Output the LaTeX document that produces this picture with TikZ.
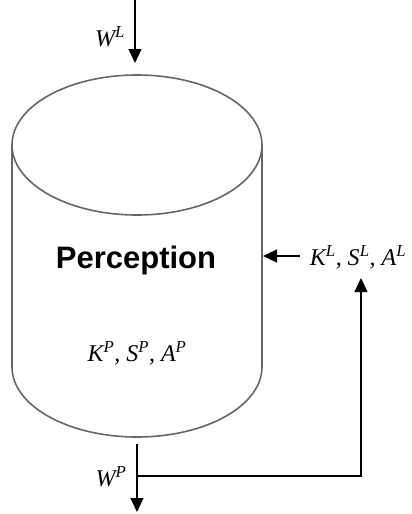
\documentclass[tikz,border=0pt]{standalone}
\usepackage{fontspec}
\setmainfont{Liberation Serif}
\newfontfamily\headfont{Liberation Sans}
\usetikzlibrary{arrows.meta}
\begin{document}
\begin{tikzpicture}[x=1pt,y=-1pt,
  conn/.style={draw=black, line width=1.1pt, -{Triangle[length=14pt,width=13pt]}},
  wire/.style={draw=black, line width=1.1pt},
  cyl/.style={draw=black!60, line width=1.6pt},
  lbl/.style={font=\fontsize{24}{26}\selectfont\itshape, inner sep=0pt}]
\useasboundingbox (0,0) rectangle (412,514);
% cylinder
\draw[cyl] (12,145) -- (12,367) arc[start angle=180, end angle=0, x radius=125, y radius=70] -- (262,145);
\draw[cyl] (137,145) ellipse[x radius=125, y radius=70];
% texts
\node[font=\headfont\bfseries\fontsize{31}{33}\selectfont, inner sep=0pt] (title) at (136,260) {Perception};
\node[lbl] (kp) at (137,353) {K\textsuperscript{P}, S\textsuperscript{P}, A\textsuperscript{P}};
\node[lbl] (wl) at (110,37) {W\textsuperscript{L}};
\node[lbl] (wp) at (111,477) {W\textsuperscript{P}};
\node[lbl] (kl) at (358,257) {K\textsuperscript{L}, S\textsuperscript{L}, A\textsuperscript{L}};
% connector coordinates
\coordinate (inTop) at (135,0);
\coordinate (inEnd) at (135,63);
\coordinate (outStart) at (137,444);
\coordinate (outEnd) at (137,512);
\coordinate (branch) at (137,476);
\coordinate (fbEnd) at (361,278);
\coordinate (lStart) at (300,256);
\coordinate (lEnd) at (263,256);
% connectors
\draw[conn] (inTop) -- (inEnd);
\draw[conn] (outStart) -- (outEnd);
\draw[conn] (branch) -| (fbEnd);
\draw[conn] (lStart) -- (lEnd);
\end{tikzpicture}
\end{document}
